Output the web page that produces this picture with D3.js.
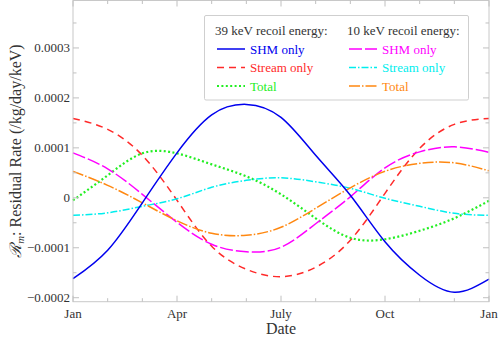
<!DOCTYPE html>
<html lang="en">
<head>
<meta charset="UTF-8">
<script src="https://cdnjs.cloudflare.com/ajax/libs/d3/7.8.5/d3.min.js"></script>
<style>
  body { margin: 0; background: #fff; }
  text { font-family: "Liberation Serif", "DejaVu Serif", serif; }
</style>
</head>
<body>
<div id="chart"></div>
<script>
// month index (0 = Jan 1, 12 = next Jan 1)
var months = [0, 1, 2, 3, 4, 5, 6, 7, 8, 9, 10, 11, 12];
var monthTicks = [0, 3, 6, 9, 12];
var monthLabels = ["Jan", "Apr", "July", "Oct", "Jan"];
var yTicks = [-0.0002, -0.0001, 0, 0.0001, 0.0002, 0.0003];

// 39 keV recoil energy
var shm39    = [-0.000162, -0.000105, -0.000010, 0.000090, 0.000166, 0.000187, 0.000161, 0.000085, 0.000005, -0.000088, -0.000155, -0.000189, -0.000163];
var stream39 = [0.000159, 0.000137, 0.000085, -0.000005, -0.000097, -0.000143, -0.000158, -0.000139, -0.000085, 0.000009, 0.000099, 0.000147, 0.000159];
var total39  = [-0.000005, 0.000045, 0.000089, 0.000089, 0.000067, 0.000043, 0.000007, -0.000041, -0.000080, -0.000083, -0.000066, -0.000041, -0.000006];
// 10 keV recoil energy
var shm10    = [0.000090, 0.000058, 0.000007, -0.000049, -0.000093, -0.000108, -0.000099, -0.000052, 0.000002, 0.000060, 0.000092, 0.000102, 0.000091];
var stream10 = [-0.000035, -0.000030, -0.000017, -0.000002, 0.000021, 0.000035, 0.000040, 0.000032, 0.000019, -0.000001, -0.000017, -0.000031, -0.000035];
var total10  = [0.000053, 0.000025, -0.000010, -0.000046, -0.000071, -0.000075, -0.000059, -0.000021, 0.000020, 0.000053, 0.000069, 0.000070, 0.000054];

var w = 500, h = 339;
var pLeft = 73, pRight = 489, pTop = 0.5, pBottom = 301.7;

var svg = d3.select("#chart").append("svg")
  .attr("width", w)
  .attr("height", h);

var xScale = d3.scaleLinear().domain([0, 12]).range([pLeft, pRight]);
var yScale = d3.scaleLinear().domain([-0.000208, 0.000395]).range([pBottom, pTop]);

var series = [
  {name: "Stream only", data: stream39, color: "#ff2a2a", dash: "7,5"},
  {name: "Total", data: total39, color: "#22ee22", dash: "2,2.4", width: 2.2},
  {name: "SHM only", data: shm10, color: "#ff00ff", dash: "13,3"},
  {name: "Stream only", data: stream10, color: "#00eeee", dash: "7,2,1.5,2"},
  {name: "Total", data: total10, color: "#ff8811", dash: "11,2,1.5,2"},
  {name: "SHM only", data: shm39, color: "#0000ee", dash: null}
];

var line = d3.line()
  .x(function(d, i) { return xScale(months[i]); })
  .y(function(d) { return yScale(d); })
  .curve(d3.curveNatural);

svg.append("g").selectAll("path")
  .data(series)
  .enter()
  .append("path")
  .attr("d", function(d) { return line(d.data); })
  .attr("fill", "none")
  .attr("stroke", function(d) { return d.color; })
  .attr("stroke-width", function(d) { return d.width || 1.5; })
  .attr("stroke-dasharray", function(d) { return d.dash; });

// frame
svg.append("rect")
  .attr("x", pLeft).attr("y", pTop)
  .attr("width", pRight - pLeft).attr("height", pBottom - pTop)
  .attr("fill", "none").attr("stroke", "#c8c8c8").attr("stroke-width", 1);

// ticks (inside, on all four sides)
var tickCol = "#c0c0c0";
var yMinor = d3.range(-0.0002, 0.00040, 0.00005);

function isMajorY(v) { return yTicks.some(function(t) { return Math.abs(t - v) < 1e-9; }); }

var tg = svg.append("g").attr("stroke", tickCol).attr("stroke-width", 1);
yMinor.forEach(function(v) {
  var len = isMajorY(v) ? 6 : 3.5;
  var y = yScale(v);
  tg.append("line").attr("x1", pLeft).attr("x2", pLeft + len).attr("y1", y).attr("y2", y);
  tg.append("line").attr("x1", pRight).attr("x2", pRight - len).attr("y1", y).attr("y2", y);
});
months.forEach(function(m) {
  var len = (m % 3 === 0) ? 6 : 3.5;
  var x = xScale(m);
  tg.append("line").attr("x1", x).attr("x2", x).attr("y1", pBottom).attr("y2", pBottom - len);
  tg.append("line").attr("x1", x).attr("x2", x).attr("y1", pTop).attr("y2", pTop + len);
});

// tick labels
var fmt = function(v) {
  if (v === 0) return "0";
  return (v < 0 ? "\u2212" : "") + Math.abs(v).toFixed(4);
};
svg.append("g").selectAll("text")
  .data(yTicks)
  .enter()
  .append("text")
  .attr("x", pLeft - 3)
  .attr("y", function(d) { return yScale(d) + 4.5; })
  .attr("text-anchor", "end")
  .attr("font-size", 13)
  .attr("fill", "#333")
  .text(fmt);

svg.append("g").selectAll("text")
  .data(monthTicks)
  .enter()
  .append("text")
  .attr("x", function(d) { return xScale(d); })
  .attr("y", 318)
  .attr("text-anchor", "middle")
  .attr("font-size", 13)
  .attr("fill", "#333")
  .text(function(d, i) { return monthLabels[i]; });

// axis titles
svg.append("text")
  .attr("x", xScale(6))
  .attr("y", 334)
  .attr("text-anchor", "middle")
  .attr("font-size", 16)
  .attr("fill", "#333")
  .text("Date");

var ylab = svg.append("text")
  .attr("transform", "translate(21," + ((pTop + pBottom) / 2) + ") rotate(-90)")
  .attr("text-anchor", "middle")
  .attr("font-size", 16)
  .attr("fill", "#333");
ylab.append("tspan").attr("font-style", "italic").text("\u211B");
ylab.append("tspan").attr("font-style", "italic").attr("font-size", 11).attr("dy", 3).text("m");
ylab.append("tspan").attr("dy", -3).text(": Residual Rate (/kg/day/keV)");

// legend
var lg = svg.append("g");
lg.append("rect")
  .attr("x", 204.5).attr("y", 15.5)
  .attr("width", 264).attr("height", 84.5)
  .attr("rx", 1.5)
  .attr("fill", "#fff").attr("stroke", "#cfcfcf");

var cols = [
  {title: "39 keV recoil energy:", x: 215, items: [series[5], series[0], series[1]]},
  {title: "10 keV recoil energy:", x: 347, items: [series[2], series[3], series[4]]}
];
var rowY = [49, 67.5, 86];
cols.forEach(function(c) {
  lg.append("text")
    .attr("x", c.x).attr("y", 35)
    .attr("font-size", 13).attr("fill", "#333")
    .text(c.title);
  c.items.forEach(function(s, i) {
    lg.append("line")
      .attr("x1", c.x + 2).attr("x2", c.x + 30)
      .attr("y1", rowY[i]).attr("y2", rowY[i])
      .attr("stroke", s.color)
      .attr("stroke-width", s.width || 1.5)
      .attr("stroke-dasharray", s.dash);
    lg.append("text")
      .attr("x", c.x + 35).attr("y", rowY[i] + 4.5)
      .attr("font-size", 13)
      .attr("fill", s.color)
      .text(s.name);
  });
});
</script>
</body>
</html>
